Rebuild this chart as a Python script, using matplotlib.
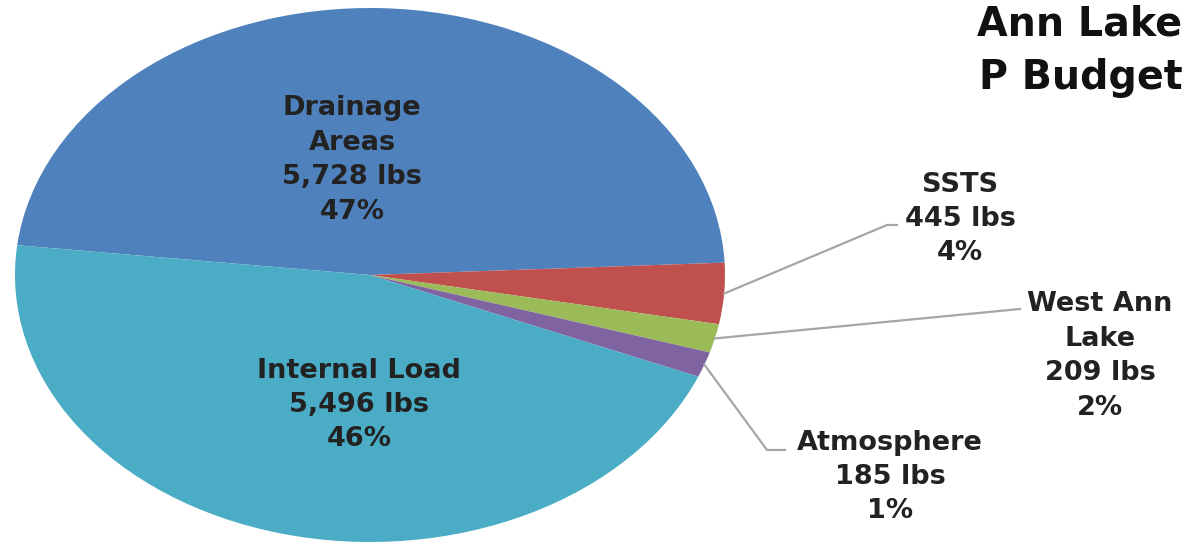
import numpy as np
import matplotlib.pyplot as plt

# P budget sources (lbs) and their stated shares
sources = ["Drainage\nAreas", "SSTS", "West Ann\nLake", "Atmosphere", "Internal Load"]
loads_lbs = [5728, 445, 209, 185, 5496]
share_labels = ["47%", "4%", "2%", "1%", "46%"]
colors = ["#4F81BD", "#C0504D", "#9BBB59", "#8064A2", "#4BACC6"]

W, H = 1204, 542
fig = plt.figure(figsize=(W / 100, H / 100), dpi=100)

# pie stretched into an ellipse: 710 px wide, 534 px tall
left, top, pw, ph = 15, 8, 710, 534
ax = fig.add_axes([left / W, 1 - (top + ph) / H, pw / W, ph / H])

start = 173.6
wedges, _ = ax.pie(loads_lbs, colors=colors, startangle=start, counterclock=False,
                   radius=1.0, wedgeprops=dict(linewidth=0))
ax.set_aspect("auto")
ax.set_xlim(-1, 1)
ax.set_ylim(-1, 1)

txt = dict(fontfamily="DejaVu Sans", fontweight="bold", color="#222222",
           fontsize=19.5, ha="center", va="center", linespacing=1.42)


def px(x, y):
    # figure pixel (from top-left) -> data coords of the pie axes
    return (x - left) / pw * 2 - 1, 1 - (y - top) / ph * 2


def label(i):
    return f"{sources[i]}\n{loads_lbs[i]:,} lbs\n{share_labels[i]}"


# labels inside the two big slices
ax.text(*px(352, 160), label(0), **txt)
ax.text(*px(359, 405), label(4), **txt)

# outside labels with leader lines
outside = {1: [(887, 225), (897, 225)],
           2: [(1020, 309)],
           3: [(767, 450), (785, 450)]}
text_pos = {1: (960, 219), 2: (1100, 356), 3: (890, 477)}

total = sum(loads_lbs)
ang = start
for i, v in enumerate(loads_lbs):
    span = 360 * v / total
    mid = np.deg2rad(ang - span / 2)
    ang -= span
    if i in outside:
        pts = [(np.cos(mid), np.sin(mid))] + [px(*p) for p in outside[i]]
        xs, ys = zip(*pts)
        ax.plot(xs, ys, color="#a6a6a6", lw=1.6, clip_on=False)
        ax.text(*px(*text_pos[i]), label(i), clip_on=False, **txt)

title = dict(fontfamily="DejaVu Sans", fontweight="bold", fontsize=28.5,
             color="#111111", ha="left", va="baseline")
fig.text(977 / W, 1 - 36 / H, "Ann Lake", **title)
fig.text(979 / W, 1 - 89 / H, "P Budget", **title)

fig.savefig("out.png", dpi=100, facecolor="white")
